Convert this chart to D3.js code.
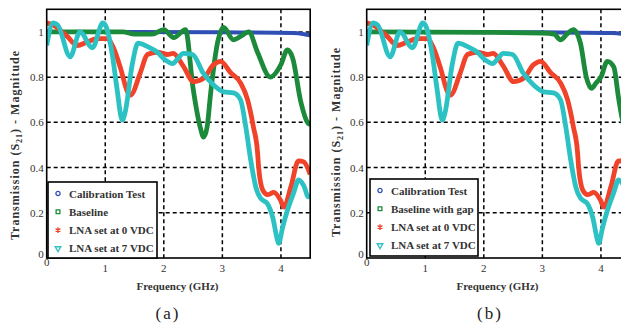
<!DOCTYPE html>
<html>
<head>
<meta charset="utf-8">
<script src="https://cdn.jsdelivr.net/npm/d3@7"></script>
<style>
  body { margin: 0; background: #fff; }
  text { font-family: "Liberation Serif", "DejaVu Serif", serif; }
</style>
</head>
<body>
<div id="root"></div>
<script>
// frequency in GHz, |S21|
const calibration = [[0, 1.0], [1.5, 1.0], [3.0, 0.998], [4.2, 0.995], [4.4, 0.99], [4.5, 0.985]];

const baselineA = [
  [0, 1.0], [1.3, 1.0], [1.5, 0.99], [1.8, 0.99], [2.0, 1.01], [2.17, 0.975], [2.37, 1.01],
  [2.5, 0.75], [2.62, 0.58], [2.68, 0.535], [2.74, 0.58], [2.8, 0.73], [2.92, 0.955],
  [3.02, 1.02], [3.19, 0.965], [3.31, 0.98], [3.45, 1.0], [3.6, 0.91], [3.82, 0.8],
  [4.0, 0.855], [4.11, 0.92], [4.2, 0.885], [4.34, 0.69], [4.46, 0.597], [4.5, 0.59]
];

const baselineGap = [
  [0, 1.0], [2.0, 0.998], [3.0, 0.995], [3.2, 0.99], [3.31, 0.965], [3.42, 0.99],
  [3.53, 1.01], [3.65, 0.95], [3.75, 0.8], [3.84, 0.75], [3.92, 0.775], [4.0, 0.8],
  [4.11, 0.87], [4.22, 0.845], [4.3, 0.71], [4.36, 0.62], [4.5, 0.5]
];

const lna0 = [
  [0, 1.04], [0.11, 1.03], [0.35, 0.98], [0.52, 0.94], [0.69, 0.955], [0.86, 0.97],
  [1.03, 0.97], [1.14, 0.93], [1.26, 0.84], [1.38, 0.735], [1.43, 0.72], [1.6, 0.82],
  [1.72, 0.9], [1.89, 0.91], [2.06, 0.9], [2.16, 0.905], [2.33, 0.85], [2.51, 0.78],
  [2.68, 0.795], [2.85, 0.855], [2.97, 0.87], [3.14, 0.82], [3.31, 0.775], [3.43, 0.7],
  [3.53, 0.58], [3.6, 0.47], [3.62, 0.4], [3.69, 0.3], [3.77, 0.28], [3.88, 0.29],
  [3.99, 0.257], [4.05, 0.225], [4.17, 0.315], [4.3, 0.43], [4.39, 0.425], [4.5, 0.37]
];

const lna7 = [
  [0, 0.94], [0.11, 1.04], [0.19, 1.03], [0.4, 0.89], [0.57, 1.0], [0.78, 0.93],
  [0.96, 1.04], [1.02, 1.02], [1.12, 0.9], [1.2, 0.75], [1.29, 0.61], [1.34, 0.645],
  [1.46, 0.855], [1.56, 0.95], [1.72, 0.935], [1.89, 0.91], [2.03, 0.875], [2.15, 0.86],
  [2.25, 0.885], [2.33, 0.905], [2.49, 0.9], [2.68, 0.815], [2.85, 0.765], [3.02, 0.735],
  [3.19, 0.73], [3.31, 0.7], [3.4, 0.58], [3.48, 0.44], [3.57, 0.315], [3.65, 0.265],
  [3.77, 0.24], [3.86, 0.18], [3.94, 0.08], [3.96, 0.065], [4.03, 0.137], [4.11, 0.21],
  [4.22, 0.29], [4.3, 0.345], [4.39, 0.32], [4.47, 0.27], [4.5, 0.28]
];

const xTicks = [0, 1, 2, 3, 4];
const yTicks = [0, 0.2, 0.4, 0.6, 0.8, 1];
const legendA = ["Calibration Test", "Baseline", "LNA set at 0 VDC", "LNA set at 7 VDC"];
const legendB = ["Calibration Test", "Baseline with gap", "LNA set at 0 VDC", "LNA set at 7 VDC"];
const colors = ["#2f4fb4", "#1b8a3a", "#f0432a", "#2cc2c4"];
const symbols = [d3.symbolCircle, d3.symbolSquare, d3.symbolAsterisk, d3.symbolTriangle];

const svg = d3.select("#root").append("svg").attr("width", 621).attr("height", 327);

function panel(left, series, names, tag, lab, leg) {
  const top = 9.3, bottom = 258, width = 263.5;
  const x = d3.scaleLinear().domain([0, 4.5]).range([left, left + width]);
  const y = d3.scaleLinear().domain([0, 1.1]).range([bottom, top]);
  const g = svg.append("g");

  const clipId = "clip" + tag;
  g.append("clipPath").attr("id", clipId)
    .append("rect").attr("x", left).attr("y", top).attr("width", width).attr("height", bottom - top);

  // dashed grid
  g.selectAll(".gx").data(xTicks.slice(1)).join("line")
    .attr("x1", d => x(d)).attr("x2", d => x(d)).attr("y1", top).attr("y2", bottom)
    .attr("stroke", "#000").attr("stroke-width", 1.5).attr("stroke-dasharray", "4,3");
  g.selectAll(".gy").data(yTicks.slice(1)).join("line")
    .attr("y1", d => y(d)).attr("y2", d => y(d)).attr("x1", left).attr("x2", left + width)
    .attr("stroke", "#000").attr("stroke-width", 1.5).attr("stroke-dasharray", "4,3");

  const line = d3.line().x(d => x(d[0])).y(d => y(d[1])).curve(d3.curveMonotoneX);
  g.append("g").attr("clip-path", `url(#${clipId})`)
    .selectAll("path").data(series).join("path")
    .attr("d", line)
    .attr("fill", "none")
    .attr("stroke", (d, i) => colors[i])
    .attr("stroke-width", (d, i) => i == 0 ? 4 : 4.8)
    .attr("stroke-linejoin", "round");

  // frame
  g.append("rect").attr("x", left).attr("y", top).attr("width", width).attr("height", bottom - top)
    .attr("fill", "none").attr("stroke", "#000").attr("stroke-width", 1.6);

  // tick labels
  g.selectAll(".ty").data(yTicks).join("text")
    .attr("x", left - 3).attr("y", d => y(d) + (d == 0 ? 0 : 4))
    .attr("text-anchor", "end").attr("font-size", 11).attr("fill", "#333")
    .text(d => d3.format("~g")(d));
  g.selectAll(".tx").data(xTicks).join("text")
    .attr("x", d => x(d)).attr("y", d => d == 0 ? 266 : 272)
    .attr("text-anchor", "middle").attr("font-size", 11).attr("fill", "#333")
    .text(d => d);

  // axis labels
  g.append("text").attr("x", left + width / 2 - 1).attr("y", 290)
    .attr("text-anchor", "middle").attr("font-size", 11).attr("font-weight", "bold").attr("fill", "#333")
    .text("Frequency (GHz)");
  const yl = g.append("text")
    .attr("transform", `translate(${lab.x},${lab.y}) rotate(-90)`)
    .attr("text-anchor", "middle").attr("font-size", 12).attr("font-weight", "bold")
    .attr("letter-spacing", 1).attr("fill", "#333");
  yl.append("tspan").text("Transmission (S");
  yl.append("tspan").attr("font-size", 8).attr("dy", 3).text("21");
  yl.append("tspan").attr("dy", -3).text(") - Magnitude");

  g.append("text").attr("x", lab.cx).attr("y", 319)
    .attr("text-anchor", "middle").attr("font-size", 17).attr("letter-spacing", 2)
    .attr("font-family", "Liberation Sans, sans-serif").attr("fill", "#222")
    .text(`(${tag})`);

  // legend
  const lg = g.append("g");
  lg.append("rect").attr("x", leg.x).attr("y", leg.y).attr("width", leg.w).attr("height", leg.h)
    .attr("fill", "#fff").attr("stroke", "#000").attr("stroke-width", 1.6);
  const rows = lg.selectAll(".row").data(names).join("g")
    .attr("transform", (d, i) => `translate(${leg.x + 10},${leg.y + 11.5 + i * 18.3})`);
  rows.append("path")
    .attr("d", (d, i) => d3.symbol(symbols[i], i == 2 ? 22 : 14)())
    .attr("transform", (d, i) => i == 3 ? "rotate(180)" : null)
    .attr("fill", (d, i) => i == 2 ? "none" : "none")
    .attr("stroke", (d, i) => colors[i]).attr("stroke-width", 1.3);
  rows.append("text").attr("x", 11).attr("y", 4)
    .attr("font-size", 11).attr("font-weight", "bold").attr("fill", "#333")
    .text(d => d);
}

panel(46.7, [calibration, baselineA, lna0, lna7], legendA, "a",
  { x: 19, y: 145, cx: 168 }, { x: 48, y: 182, w: 109, h: 76 });
panel(366.7, [calibration, baselineGap, lna0, lna7], legendB, "b",
  { x: 340, y: 142, cx: 490 }, { x: 370, y: 179, w: 108, h: 77 });
</script>
</body>
</html>
